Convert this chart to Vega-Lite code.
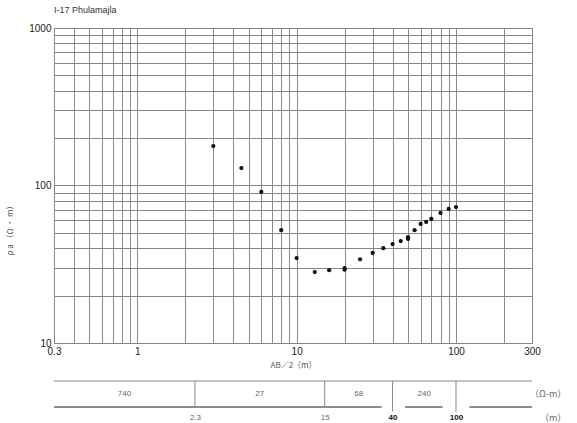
{
  "$schema": "https://vega.github.io/schema/vega-lite/v6.json",
  "background": "white",
  "padding": {"left": 5, "top": 5, "right": 5, "bottom": 5},
  "title": {"text": "I-17 Phulamajla", "anchor": "start", "frame": "group", "fontSize": 9, "fontWeight": "normal", "font": "Liberation Sans", "color": "#333", "offset": 8},
  "config": {"font": "Liberation Sans", "concat": {"spacing": 10}, "view": {"stroke": "#666"}},
  "datasets": {
    "soundings": [
      {"ab2": 3, "rho": 178}, {"ab2": 4.5, "rho": 129}, {"ab2": 6, "rho": 91}, {"ab2": 8, "rho": 52},
      {"ab2": 10, "rho": 34.6}, {"ab2": 13, "rho": 28.2}, {"ab2": 16, "rho": 29}, {"ab2": 20, "rho": 29.9},
      {"ab2": 20, "rho": 29.2}, {"ab2": 25, "rho": 34}, {"ab2": 30, "rho": 37.3}, {"ab2": 35, "rho": 40},
      {"ab2": 40, "rho": 42.5}, {"ab2": 45, "rho": 44.4}, {"ab2": 50, "rho": 47}, {"ab2": 50, "rho": 45.8},
      {"ab2": 55, "rho": 52}, {"ab2": 60, "rho": 57}, {"ab2": 65, "rho": 58.7}, {"ab2": 70, "rho": 61.3},
      {"ab2": 80, "rho": 67}, {"ab2": 90, "rho": 71}, {"ab2": 100, "rho": 73}
    ],
    "layers": [
      {"top": 0.3, "bottom": 2.3, "rho": "740"},
      {"top": 2.3, "bottom": 15, "rho": "27"},
      {"top": 15, "bottom": 40, "rho": "68"},
      {"top": 40, "bottom": 100, "rho": "240"},
      {"top": 100, "bottom": 300, "rho": ""}
    ],
    "units": [
      {"lbl": "（Ω-m）", "row": 0.5},
      {"lbl": "（m）", "row": -0.42}
    ]
  },
  "vconcat": [
    {
      "width": 478,
      "height": 315,
      "data": {"name": "soundings"},
      "mark": {"type": "point", "filled": true, "size": 18, "color": "#111", "opacity": 1},
      "encoding": {
        "x": {
          "field": "ab2", "type": "quantitative",
          "scale": {"type": "log", "domain": [0.3, 300], "nice": false},
          "axis": {
            "values": [0.3,0.4,0.5,0.6,0.7,0.8,0.9,1,2,3,4,5,6,7,8,9,10,20,30,40,50,60,70,80,90,100,200,300],
            "labelExpr": "(datum.value==0.3||datum.value==1||datum.value==10||datum.value==100||datum.value==300) ? format(datum.value,'~g') : ''",
            "grid": true, "gridColor": "#888", "gridOpacity": 1, "gridWidth": 1,
            "ticks": false, "domain": false, "labelFlush": false, "labelOverlap": false,
            "labelFontSize": 10, "labelColor": "#222", "labelPadding": 3,
            "title": "AB／2（m）", "titleFont": "Noto Sans CJK JP", "titleFontSize": 8, "titleFontWeight": "normal", "titleColor": "#555", "titlePadding": 5
          }
        },
        "y": {
          "field": "rho", "type": "quantitative",
          "scale": {"type": "log", "domain": [10, 1000], "nice": false},
          "axis": {
            "values": [10,20,30,40,50,60,70,80,90,100,200,300,400,500,600,700,800,900,1000],
            "labelExpr": "(datum.value==10||datum.value==100||datum.value==1000) ? format(datum.value,'~g') : ''",
            "grid": true, "gridColor": "#888", "gridOpacity": 1, "gridWidth": 1,
            "ticks": false, "domain": false, "labelFlush": false, "labelOverlap": false,
            "labelFontSize": 10, "labelColor": "#222", "labelPadding": 3,
            "title": "ρ a  （Ω ・ m）", "titleFont": "Noto Sans CJK JP", "titleFontSize": 8, "titleFontWeight": "normal", "titleColor": "#555",
            "titleX": -40, "titleY": 200
          }
        }
      }
    },
    {
      "width": 478,
      "height": 26,
      "view": {"stroke": null},
      "layer": [
        {
          "data": {"name": "layers"},
          "mark": {"type": "rule", "color": "#888", "strokeWidth": 1},
          "encoding": {
            "x": {
              "field": "top", "type": "quantitative",
              "scale": {"type": "log", "domain": [0.3, 300], "nice": false},
              "axis": {
                "values": [2.3, 15, 40, 100], "grid": false, "ticks": false, "domain": false, "labelFlush": false,
                "labelFontSize": 8, "labelColor": {"condition": {"test": "datum.value >= 40", "value": "#111"}, "value": "#666"},
                "labelFontWeight": {"condition": {"test": "datum.value >= 40", "value": "bold"}, "value": "normal"},
                "labelPadding": 6, "title": null
              }
            },
            "x2": {"field": "bottom"},
            "y": {"datum": 1, "type": "quantitative", "scale": {"domain": [0, 1]}, "axis": null}
          }
        },
        {
          "data": {"name": "layers"},
          "mark": {"type": "rule", "color": "#888", "strokeWidth": 1},
          "encoding": {
            "x": {"datum": 0.3, "type": "quantitative"},
            "x2": {"datum": 34},
            "y": {"datum": 0, "type": "quantitative"}
          }
        },
        {
          "data": {"name": "layers"},
          "mark": {"type": "rule", "color": "#888", "strokeWidth": 1},
          "encoding": {
            "x": {"datum": 48, "type": "quantitative"},
            "x2": {"datum": 82},
            "y": {"datum": 0, "type": "quantitative"}
          }
        },
        {
          "data": {"name": "layers"},
          "mark": {"type": "rule", "color": "#888", "strokeWidth": 1},
          "encoding": {
            "x": {"datum": 122, "type": "quantitative"},
            "x2": {"datum": 300},
            "y": {"datum": 0, "type": "quantitative"}
          }
        },
        {
          "data": {"name": "layers"},
          "transform": [{"filter": "datum.bottom < 40"}],
          "mark": {"type": "rule", "color": "#888", "strokeWidth": 1},
          "encoding": {
            "x": {"field": "bottom", "type": "quantitative"},
            "y": {"datum": 0, "type": "quantitative"},
            "y2": {"datum": 1}
          }
        },
        {
          "data": {"name": "layers"},
          "transform": [{"filter": "datum.bottom >= 40 && datum.bottom < 300"}],
          "mark": {"type": "rule", "color": "#888", "strokeWidth": 1},
          "encoding": {
            "x": {"field": "bottom", "type": "quantitative"},
            "y": {"datum": -0.18, "type": "quantitative"},
            "y2": {"datum": 1}
          }
        },
        {
          "data": {"name": "layers"},
          "transform": [{"calculate": "sqrt(datum.top * datum.bottom)", "as": "mid"}],
          "mark": {"type": "text", "fontSize": 8, "color": "#666", "baseline": "middle"},
          "encoding": {
            "x": {"field": "mid", "type": "quantitative"},
            "y": {"datum": 0.5, "type": "quantitative"},
            "text": {"field": "rho"}
          }
        },
        {
          "data": {"name": "units"},
          "transform": [{"filter": "datum.row > 0"}],
          "mark": {"type": "text", "fontSize": 9, "color": "#666", "align": "left", "baseline": "middle", "font": "Noto Sans CJK JP", "dx": -2},
          "encoding": {
            "x": {"datum": 300, "type": "quantitative"},
            "y": {"field": "row", "type": "quantitative"},
            "text": {"field": "lbl"}
          }
        },
        {
          "data": {"name": "units"},
          "transform": [{"filter": "datum.row < 0"}],
          "mark": {"type": "text", "fontSize": 9, "color": "#666", "align": "left", "baseline": "middle", "font": "Noto Sans CJK JP", "dx": 8},
          "encoding": {
            "x": {"datum": 300, "type": "quantitative"},
            "y": {"field": "row", "type": "quantitative"},
            "text": {"field": "lbl"}
          }
        }
      ]
    }
  ]
}
